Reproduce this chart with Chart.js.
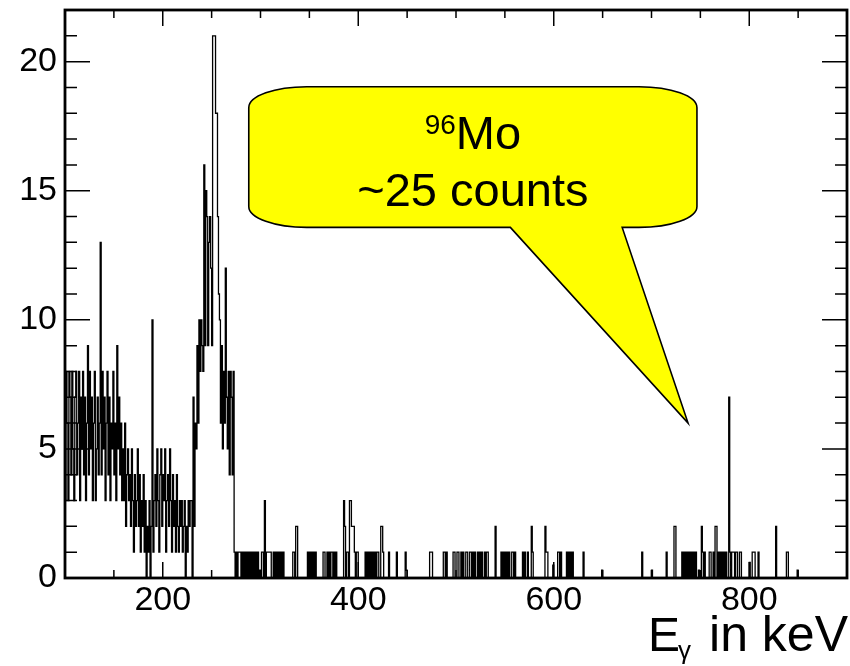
<!DOCTYPE html>
<html><head><meta charset="utf-8">
<script src="https://cdn.jsdelivr.net/npm/chart.js@4.4.1/dist/chart.umd.min.js"></script>
<style>html,body{margin:0;padding:0;background:#fff;overflow:hidden}canvas{display:block}</style>
</head><body>
<canvas id="c" width="850" height="666"></canvas>
<script>
// ---- data (1 keV bins, 100..900 keV) ----
const binWidthKeV = 1;
const energyRange = [100, 900];
// dense part: bins starting at 100, 101, ..., 279 keV (10 per row)
const denseCounts = [
  8, 3, 8, 6, 3, 8, 7, 4, 8, 5,
  3, 7, 8, 4, 6, 8, 3, 7, 5, 8,
  4, 7, 3, 6, 9, 4, 8, 5, 7, 3,
  6, 8, 3, 5, 7, 4, 6, 13, 4, 8,
  5, 7, 3, 6, 8, 4, 7, 3, 6, 5,
  8, 4, 6, 3, 9, 5, 7, 4, 6, 3,
  5, 3, 6, 2, 4, 5, 3, 4, 2, 5,
  3, 1, 4, 2, 3, 5, 2, 4, 1, 3,
  2, 4, 1, 3, 0, 2, 1, 3, 0, 2,
  10, 1, 3, 4, 2, 5, 3, 1, 4, 5,
  2, 4, 3, 5, 1, 3, 4, 2, 5, 3,
  1, 4, 2, 3, 1, 4, 2, 1, 3, 2,
  3, 1, 2, 3, 0, 2, 1, 3, 2, 3,
  3, 0, 7, 2, 6, 5, 9, 6, 10, 8,
  10, 9, 8, 16, 9, 15, 14, 9, 13, 14,
  12, 9, 21, 21, 21, 18, 18, 14, 11, 10,
  6, 9, 5, 8, 6, 12, 7, 5, 8, 4,
  8, 7, 4, 8, 1, 0, 1, 0, 1, 1
];
// sparse part: bin start energies (keV) and their counts
const sparseEnergies = [
  280, 282, 284, 286, 288, 290, 292, 294, 296, 298,
  300, 302, 303, 305, 307, 308, 309, 310, 311, 314, 316, 318, 320, 322, 324,
  334, 335, 337, 338, 349, 351, 353, 355, 357, 365, 366, 369, 371, 373, 374, 376, 378,
  386, 387, 389, 390, 392, 393, 394, 395, 396, 397, 399, 400,
  408, 410, 412, 414, 416, 418, 420, 421, 424, 425, 426, 432, 440, 449, 450,
  474, 475, 476, 488, 489, 491, 498, 499, 502, 503, 506, 508, 511, 512,
  515, 516, 518, 520, 523, 525, 527, 530, 532, 533, 541,
  547, 549, 551, 553, 555, 558, 559, 561, 569, 571, 574, 578, 579,
  592, 593, 594, 600, 605, 606, 608, 614, 616, 618, 620, 631, 650,
  691, 701, 716, 724, 725, 732, 734, 736, 738, 740, 742, 744, 746, 749,
  752, 753, 755, 760, 761, 764, 766, 767, 769, 771, 773, 775, 777, 780, 781,
  783, 784, 785, 787, 788, 791, 792, 801, 804, 805, 806, 810, 828, 839, 840, 850
];
const sparseCounts = [
  1, 1, 1, 1, 1, 1, 1, 1, 1, 1,
  0.3, 1, 1, 3, 1, 1, 1, 1, 1, 1, 1, 1, 1, 1, 1,
  1, 1, 2, 2, 1, 1, 1, 1, 1, 1, 1, 1, 1, 1, 1, 1, 1,
  3, 2, 1, 1, 3, 3, 2, 2, 2, 1, 1, 1,
  1, 1, 1, 1, 1, 1, 1, 1, 2, 2, 1, 1, 1, 1, 0.3,
  1, 1, 1, 1, 1, 1, 1, 1, 1, 1, 1, 1, 1, 1,
  1, 1, 1, 1, 1, 1, 1, 1, 1, 1, 2,
  1, 1, 1, 1, 1, 1, 1, 1, 1, 1, 1, 2, 1,
  2, 1, 1, 0.5, 1, 1, 1, 1, 1, 1, 1, 1, 0.3,
  1, 0.3, 1, 2, 2, 1, 1, 1, 1, 1, 1, 1, 1, 0.3,
  2, 1, 1, 1, 1, 1, 2, 2, 1, 1, 1, 1, 1, 7, 1,
  1, 1, 1, 1, 1, 1, 1, 0.6, 1, 1, 1, 1, 2, 1, 1, 0.3
];
const xTickValues = [200, 400, 600, 800];
const yTickValues = [0, 5, 10, 15, 20];
const calloutIsotope = ['96', 'Mo'];
const calloutText = '~25 counts';
const xTitleParts = ['E', 'γ', 'in keV'];

// ---- build histogram table ----
const nBins = (energyRange[1] - energyRange[0]) / binWidthKeV;
const counts = new Array(nBins).fill(0);
denseCounts.forEach((c, i) => { counts[i] = c; });
sparseEnergies.forEach((e, k) => { counts[(e - energyRange[0]) / binWidthKeV] = sparseCounts[k]; });
const points = counts.map((c, i) => ({ x: energyRange[0] + i * binWidthKeV, y: c }));
points.push({ x: energyRange[1], y: counts[nBins - 1] });

const FONT = '"Liberation Sans", Arial, Helvetica, sans-serif';

const decorPlugin = {
  id: 'decor',
  afterDatasetsDraw(chart) {
    const ctx = chart.ctx, a = chart.chartArea;
    const xs = chart.scales.x, ys = chart.scales.y;
    ctx.save();
    // ticks (inside, all four sides)
    ctx.strokeStyle = '#000';
    ctx.lineWidth = 1.5;
    ctx.beginPath();
    for (let v = 100; v <= 900; v += 50) {
      const px = xs.getPixelForValue(v);
      const len = (v % 200 === 0) ? 16 : 8;
      ctx.moveTo(px, a.bottom); ctx.lineTo(px, a.bottom - len);
      ctx.moveTo(px, a.top); ctx.lineTo(px, a.top + len);
    }
    for (let v = 0; v <= 22; v += 1) {
      const py = ys.getPixelForValue(v);
      const len = (v % 5 === 0) ? 25 : 12;
      ctx.moveTo(a.left, py); ctx.lineTo(a.left + len, py);
      ctx.moveTo(a.right, py); ctx.lineTo(a.right - len, py);
    }
    ctx.stroke();
    // frame
    ctx.lineWidth = 2.8;
    ctx.strokeRect(a.left, a.top, a.right - a.left, a.bottom - a.top);

    // callout (positions in data units)
    const L = xs.getPixelForValue(288), R = xs.getPixelForValue(746.5);
    const T = ys.getPixelForValue(19.03), B = ys.getPixelForValue(13.58);
    const bL = xs.getPixelForValue(555.6), bR = xs.getPixelForValue(670);
    const tx = xs.getPixelForValue(737.4), ty = ys.getPixelForValue(6.0);
    const rx = 58, ry = 21;
    ctx.beginPath();
    ctx.moveTo(L + rx, T);
    ctx.lineTo(R - rx, T);
    ctx.ellipse(R - rx, T + ry, rx, ry, 0, -Math.PI / 2, 0);
    ctx.lineTo(R, B - ry);
    ctx.ellipse(R - rx, B - ry, rx, ry, 0, 0, Math.PI / 2);
    ctx.lineTo(bR, B);
    ctx.lineTo(tx, ty);
    ctx.lineTo(bL, B);
    ctx.lineTo(L + rx, B);
    ctx.ellipse(L + rx, B - ry, rx, ry, 0, Math.PI / 2, Math.PI);
    ctx.lineTo(L, T + ry);
    ctx.ellipse(L + rx, T + ry, rx, ry, 0, Math.PI, Math.PI * 1.5);
    ctx.closePath();
    ctx.fillStyle = '#ffff00';
    ctx.fill();
    ctx.lineWidth = 1.6;
    ctx.strokeStyle = '#000';
    ctx.stroke();

    const cx = (L + R) / 2;
    ctx.fillStyle = '#000';
    ctx.textBaseline = 'alphabetic';
    ctx.textAlign = 'left';
    ctx.font = '28px ' + FONT;
    const wSup = ctx.measureText(calloutIsotope[0]).width;
    ctx.font = '47px ' + FONT;
    const wMo = ctx.measureText(calloutIsotope[1]).width;
    const sx = cx - (wSup + wMo) / 2;
    ctx.font = '28px ' + FONT;
    ctx.fillText(calloutIsotope[0], sx, T + 47);
    ctx.font = '47px ' + FONT;
    ctx.fillText(calloutIsotope[1], sx + wSup, T + 62);
    ctx.textAlign = 'center';
    ctx.fillText(calloutText, cx, T + 119);

    // x-axis title
    ctx.textAlign = 'left';
    ctx.font = '48px ' + FONT;
    ctx.fillText(xTitleParts[0], 648, 651);
    ctx.font = '26px ' + FONT;
    ctx.fillText(xTitleParts[1], 678, 659);
    ctx.textAlign = 'right';
    ctx.font = '50px ' + FONT;
    ctx.fillText(xTitleParts[2], 848, 651);
    ctx.restore();
  }
};

new Chart(document.getElementById('c').getContext('2d'), {
  type: 'line',
  data: {
    datasets: [{
      data: points,
      stepped: 'after',
      borderColor: '#000',
      borderWidth: 1.3,
      pointRadius: 0,
      fill: false,
      tension: 0
    }]
  },
  options: {
    responsive: false,
    animation: false,
    devicePixelRatio: 1,
    layout: { padding: { top: 10, right: 3, left: 0, bottom: 0 } },
    plugins: { legend: { display: false }, tooltip: { enabled: false } },
    scales: {
      x: {
        type: 'linear', min: energyRange[0], max: energyRange[1],
        grid: { display: false, drawTicks: false },
        border: { display: false },
        afterBuildTicks: s => { s.ticks = xTickValues.map(v => ({ value: v })); },
        afterFit: s => { s.height = 88; s.paddingLeft = 0; s.paddingRight = 0; },
        ticks: { font: { family: FONT, size: 34 }, color: '#000', padding: 2, maxRotation: 0, autoSkip: false }
      },
      y: {
        min: 0, max: 22,
        grid: { display: false, drawTicks: false },
        border: { display: false },
        afterBuildTicks: s => { s.ticks = yTickValues.map(v => ({ value: v })); },
        afterFit: s => { s.width = 65; s.paddingTop = 0; s.paddingBottom = 0; },
        ticks: { font: { family: FONT, size: 34 }, color: '#000', padding: 8, autoSkip: false }
      }
    }
  },
  plugins: [decorPlugin]
});
</script>
</body></html>
